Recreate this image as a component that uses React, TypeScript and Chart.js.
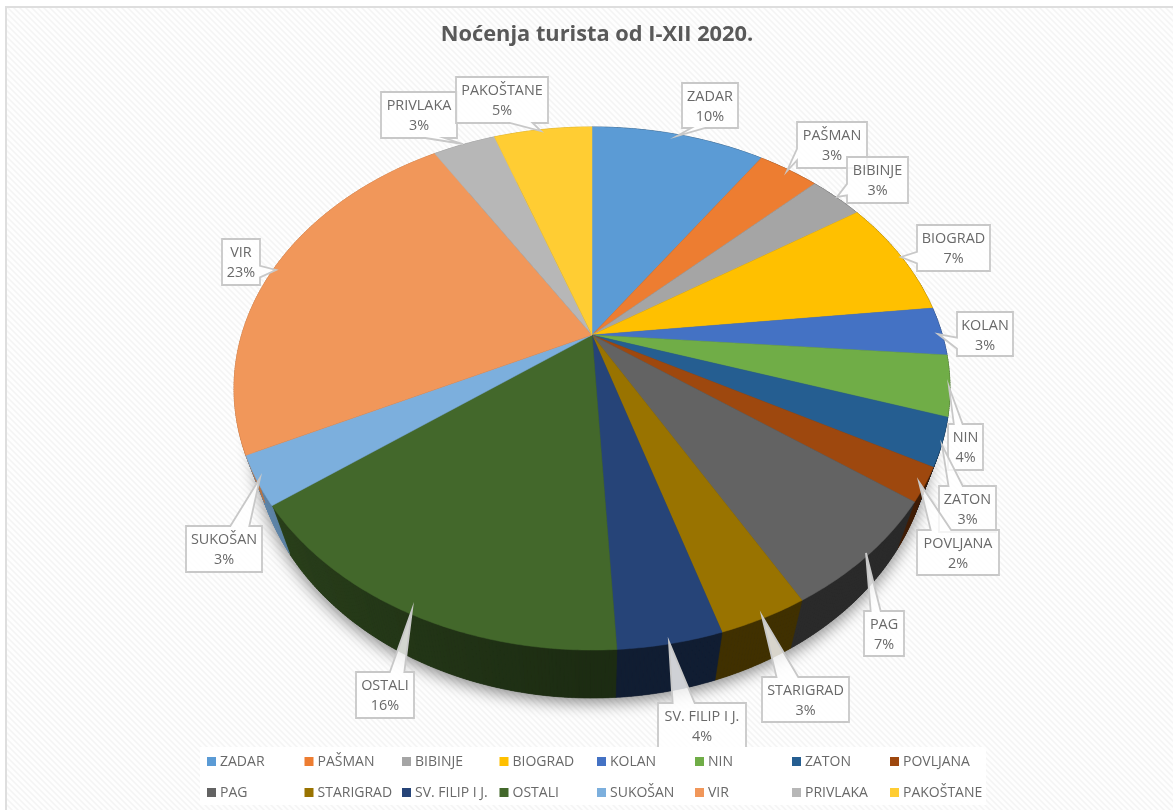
import React, { useEffect, useRef } from "react";
import { Chart, registerables } from "chart.js";

Chart.register(...registerables);

const categories = ["ZADAR","PAŠMAN","BIBINJE","BIOGRAD","KOLAN","NIN","ZATON","POVLJANA","PAG","STARIGRAD","SV. FILIP I J.","OSTALI","SUKOŠAN","VIR","PRIVLAKA","PAKOŠTANE"];
const values = [9.55,3.35,2.97,7.38,3.0,3.72,2.93,2.07,6.83,3.37,3.93,15.7,3.0,23.37,3.44,5.39];
const percentLabels = ["10%","3%","3%","7%","3%","4%","3%","2%","7%","3%","4%","16%","3%","23%","3%","5%"];
const colors = ["#5B9BD5","#ED7D31","#A5A5A5","#FFC000","#4472C4","#70AD47","#255E91","#9E480E","#636363","#997300","#264478","#43682B","#7CAFDD","#F1975A","#B7B7B7","#FFCD33"];
const titleText = "Noćenja turista od I-XII 2020.";

// callout layout: box [x0,y0,x1,y1] and tip [x,y]
const calloutBoxes = [
  [682,83,738,128],[797,122,867,168],[847,157,908,203],[917,225,990,271],
  [957,312,1013,356],[948,424,983,470],[939,486,996,532],[917,530,999,575],
  [864,611,904,656],[762,677,849,722],[658,703,746,752],[356,672,414,718],
  [186,526,262,572],[222,239,260,285],[381,92,457,138],[456,77,548,123],
];
const calloutTips = [
  [677,136],[787,171],[837,197],[901,257],[938,334],[949,387],[942,445],[919,482],
  [866,553],[762,616],[669,642],[412,610],[260,478],[276,270],[463,144],[541,131],
];
const legendCols = [207,304.5,402,499.5,597,695,792,890];
const legendRows = [757,788];

const FONT = '"Open Sans", sans-serif';
const P = { cx: 592, cy: 335, R: 350.4, b: 250.6, c: -0.2046, depth: 48, shrink: 0.945 };

function top(theta: number): [number, number] {
  const u = Math.sin(theta), v = -Math.cos(theta), w = 1 + P.c * v;
  return [P.cx + (P.R * u) / w, P.cy + (P.b * v) / w];
}
function bottom(theta: number): [number, number] {
  const [x, y] = top(theta);
  return [P.cx + (x - P.cx) * P.shrink, y + P.depth];
}
function hexRgb(h: string) {
  const n = parseInt(h.slice(1), 16);
  return [(n >> 16) & 255, (n >> 8) & 255, n & 255];
}
function wallShade(deg: number) {
  if (deg <= 180) return 0.42;
  if (deg <= 233) return 0.42 + ((deg - 180) / 53) * 0.2;
  return 0.76;
}

const pie3d = {
  id: "pie3d",
  beforeDraw(chart: any) {
    const ctx: CanvasRenderingContext2D = chart.ctx;
    ctx.save();
    ctx.fillStyle = "#ffffff";
    ctx.fillRect(0, 0, chart.width, chart.height);
    const pc = document.createElement("canvas");
    pc.width = 6; pc.height = 6;
    const p = pc.getContext("2d")!;
    p.fillStyle = "#ffffff"; p.fillRect(0, 0, 6, 6);
    for (let y = 0; y < 6; y++) {
      for (let x = 0; x < 6; x++) {
        const k = (x - y + 6) % 6;
        p.fillStyle = k === 0 ? "#f4f4f4" : k === 1 || k === 5 ? "#f8f8f8" : "#fefefe";
        p.fillRect(x, y, 1, 1);
      }
    }
    ctx.fillStyle = ctx.createPattern(pc, "repeat")!;
    ctx.fillRect(6, 7, chart.width - 6, chart.height - 7);
    ctx.fillStyle = "#dedede";
    ctx.fillRect(5, 6, chart.width - 5, 2);
    ctx.fillRect(5, 6, 2, chart.height - 6);
    ctx.restore();
  },
  beforeDatasetsDraw(chart: any) {
    const ctx: CanvasRenderingContext2D = chart.ctx;
    const arcs = chart.getDatasetMeta(0).data;
    const off = Math.PI / 2;
    ctx.save();
    // soft shadow of the whole body
    ctx.save();
    ctx.shadowColor = "rgba(0,0,0,0.45)";
    ctx.shadowBlur = 16;
    ctx.shadowOffsetY = 5;
    ctx.fillStyle = "#333";
    ctx.beginPath();
    for (let d = 0; d < 360; d += 2) {
      const [x, y] = bottom((d * Math.PI) / 180);
      d === 0 ? ctx.moveTo(x, y) : ctx.lineTo(x, y);
    }
    ctx.closePath();
    ctx.fill();
    ctx.restore();
    // walls
    arcs.forEach((arc: any) => {
      const a0 = arc.startAngle + off, a1 = arc.endAngle + off;
      const rgb = hexRgb(arc.options.backgroundColor);
      const step = (Math.PI / 180) * 0.5;
      for (let a = a0; a < a1; a += step) {
        const e = Math.min(a + step, a1);
        const s = wallShade((a * 180) / Math.PI);
        const col = `rgb(${rgb.map((c) => Math.round(c * s)).join(",")})`;
        const [x0, y0] = top(a), [x1, y1] = top(e), [x2, y2] = bottom(e), [x3, y3] = bottom(a);
        ctx.fillStyle = col;
        ctx.strokeStyle = col;
        ctx.lineWidth = 0.6;
        ctx.beginPath();
        ctx.moveTo(x0, y0); ctx.lineTo(x1, y1); ctx.lineTo(x2, y2); ctx.lineTo(x3, y3);
        ctx.closePath();
        ctx.fill(); ctx.stroke();
      }
    });
    // top faces
    arcs.forEach((arc: any) => {
      const a0 = arc.startAngle + off, a1 = arc.endAngle + off;
      const col = arc.options.backgroundColor;
      ctx.fillStyle = col;
      ctx.strokeStyle = col;
      ctx.lineWidth = 0.5;
      ctx.beginPath();
      ctx.moveTo(P.cx, P.cy);
      const n = Math.max(4, Math.ceil((a1 - a0) / 0.01));
      for (let k = 0; k <= n; k++) {
        const [x, y] = top(a0 + ((a1 - a0) * k) / n);
        ctx.lineTo(x, y);
      }
      ctx.closePath();
      ctx.fill(); ctx.stroke();
    });
    ctx.restore();
    return false; // the library's flat arcs are replaced by the projected ones
  },
  afterDraw(chart: any) {
    const ctx: CanvasRenderingContext2D = chart.ctx;
    ctx.save();
    // callouts
    categories.forEach((name, i) => {
      const [x0, y0, x1, y1] = calloutBoxes[i];
      const [tx, ty] = calloutTips[i];
      const w = x1 - x0, h = y1 - y0;
      const dx = tx - (x0 + x1) / 2, dy = ty - (y0 + y1) / 2;
      const dq = (dx * h) / w;
      const g = (side: number, len: number, o: number) =>
        side < 0 ? [o + (len * 2) / 12, o + (len * 5) / 12] : [o + (len * 7) / 12, o + (len * 10) / 12];
      ctx.beginPath();
      ctx.moveTo(x0, y0);
      if (Math.abs(dy) > Math.abs(dq) && dy < 0) {
        const [a, b] = g(dx, w, x0);
        ctx.lineTo(a, y0); ctx.lineTo(tx, ty); ctx.lineTo(b, y0);
      }
      ctx.lineTo(x1, y0);
      if (Math.abs(dy) <= Math.abs(dq) && dx > 0) {
        const [a, b] = g(dy, h, y0);
        ctx.lineTo(x1, a); ctx.lineTo(tx, ty); ctx.lineTo(x1, b);
      }
      ctx.lineTo(x1, y1);
      if (Math.abs(dy) > Math.abs(dq) && dy > 0) {
        const [a, b] = g(dx, w, x0);
        ctx.lineTo(b, y1); ctx.lineTo(tx, ty); ctx.lineTo(a, y1);
      }
      ctx.lineTo(x0, y1);
      if (Math.abs(dy) <= Math.abs(dq) && dx < 0) {
        const [a, b] = g(dy, h, y0);
        ctx.lineTo(x0, b); ctx.lineTo(tx, ty); ctx.lineTo(x0, a);
      }
      ctx.closePath();
      ctx.fillStyle = "rgba(255,255,255,0.8)";
      ctx.fill();
      ctx.strokeStyle = "#c8c8c8";
      ctx.lineWidth = 1.8;
      ctx.stroke();
      ctx.fillStyle = "#696969";
      ctx.font = `14.4px ${FONT}`;
      ctx.textAlign = "center";
      ctx.textBaseline = "middle";
      const mx = (x0 + x1) / 2;
      ctx.fillText(name, mx, y0 + 14);
      ctx.fillText(percentLabels[i], mx, y0 + 34);
    });
    // legend
    ctx.fillStyle = "#ffffff";
    ctx.fillRect(200, 747, 786, 58);
    ctx.font = `14px ${FONT}`;
    ctx.textAlign = "left";
    ctx.textBaseline = "middle";
    categories.forEach((name, i) => {
      const r = Math.floor(i / 8), c = i % 8;
      ctx.fillStyle = colors[i];
      ctx.fillRect(legendCols[c], legendRows[r], 9, 9);
      ctx.fillStyle = "#696969";
      ctx.fillText(name, legendCols[c] + 13, legendRows[r] + 5);
    });
    ctx.restore();
  },
};

export default function App() {
  const ref = useRef<HTMLCanvasElement>(null);
  useEffect(() => {
    document.body.style.margin = "0";
    const chart = new Chart(ref.current!, {
      type: "pie",
      data: { labels: categories, datasets: [{ data: values, backgroundColor: colors, borderWidth: 0 }] },
      options: {
        animation: false,
        responsive: false,
        devicePixelRatio: 1,
        events: [],
        layout: { padding: { left: 21, top: 14 } },
        plugins: {
          legend: { display: false },
          tooltip: { enabled: false },
          title: {
            display: true,
            text: titleText,
            color: "#595959",
            font: { family: FONT, size: 21.8, weight: "bold" },
            padding: { top: 8, bottom: 8 },
          },
        },
      },
      plugins: [pie3d],
    } as any);
    return () => chart.destroy();
  }, []);
  return <canvas ref={ref} width={1173} height={810} style={{ display: "block" }} />;
}
